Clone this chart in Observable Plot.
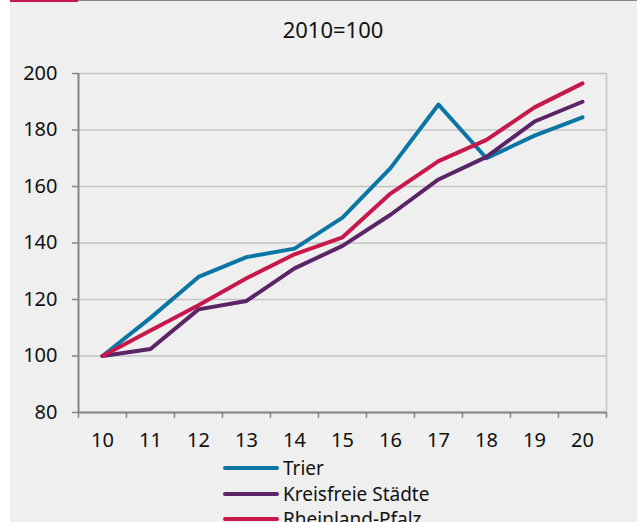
<!DOCTYPE html>
<html><head><meta charset="utf-8">
<script src="https://cdn.jsdelivr.net/npm/d3@7"></script>
<script src="https://cdn.jsdelivr.net/npm/@observablehq/plot@0.6"></script>
<style>
body{margin:0;background:#fff;width:639px;height:522px;overflow:hidden;position:relative;font-family:"Noto Sans",sans-serif;}
#panel{position:absolute;left:10px;top:0;width:627px;height:522px;background:#eeefee;}
#topred{position:absolute;left:10px;top:0;width:68px;height:2px;background:#c8174a;}
#topgray{position:absolute;left:78px;top:0;width:559px;height:1px;background:#858585;}
#title{position:absolute;left:0;width:666px;top:14px;text-align:center;font-size:22px;line-height:30px;color:#111;}
#chart{position:absolute;left:0;top:0;}
.lg{position:absolute;left:223px;height:26px;}
.sw{position:absolute;left:0;width:56px;height:4px;border-radius:2px;top:11px;}
.lt{position:absolute;left:60px;top:0;font-size:19px;white-space:nowrap;color:#111;line-height:26px;}
</style></head><body>
<div id="panel"></div>
<div id="topred"></div><div id="topgray"></div>
<div id="title">2010=100</div>
<div id="chart"></div>
<div id="legend"></div>
<script>
const years = [10, 11, 12, 13, 14, 15, 16, 17, 18, 19, 20];
const seriesNames = ["Trier", "Kreisfreie Städte", "Rheinland-Pfalz"];
const seriesColors = ["#0b76a3", "#5b2466", "#c8174a"];
const trier = [100, 113.5, 128, 135, 138, 149, 166.5, 189, 170, 178, 184.5];
const kreisfreie = [100, 102.5, 116.5, 119.5, 131, 139, 150, 162.5, 170.5, 183, 190];
const rlp = [100, 109, 118, 127.5, 136, 142, 157.5, 169, 176.5, 188, 196.5];
const yTicks = [80, 100, 120, 140, 160, 180, 200];

const allSeries = [trier, kreisfreie, rlp];
const data = [];
allSeries.forEach((vals, s) => years.forEach((yr, i) => data.push({year: yr, value: vals[i], series: seriesNames[s]})));
const bounds = [years[0] - 0.5, ...years.map(y => y + 0.5)];

const chart = Plot.plot({
  width: 639, height: 522,
  marginLeft: 78, marginRight: 33, marginTop: 73, marginBottom: 110,
  x: {type: "linear", domain: [years[0] - 0.5, years[years.length - 1] + 0.5]},
  y: {domain: [80, 200]},
  color: {domain: seriesNames, range: seriesColors},
  style: {background: "transparent", fontFamily: "'Noto Sans', sans-serif", fontSize: "20px", color: "#111"},
  marks: [
    Plot.gridY(yTicks, {stroke: "#c4c4c4", strokeOpacity: 1, strokeWidth: 1.5}),
    Plot.ruleX([bounds[bounds.length - 1]], {stroke: "#c4c4c4", strokeWidth: 1.5}),
    Plot.axisY(yTicks, {tickSize: 6, tickPadding: 15, stroke: "#858585", strokeWidth: 1.5, fontSize: 20, label: null}),
    Plot.ruleX([bounds[0]], {stroke: "#858585", strokeWidth: 2}),
    Plot.ruleY([80], {stroke: "#858585", strokeWidth: 2}),
    Plot.axisX(bounds, {tickSize: 6, tickFormat: () => "", stroke: "#858585", strokeWidth: 1.5, label: null}),
    Plot.axisX(years, {tickSize: 0, tickPadding: 20, fontSize: 20, label: null}),
    Plot.line(data, {x: "year", y: "value", z: "series", stroke: "series", strokeWidth: 4})
  ]
});
document.getElementById("chart").appendChild(chart);

const legend = document.getElementById("legend");
const rowTops = [455, 480.5, 506];
seriesNames.forEach((name, i) => {
  const row = document.createElement("div");
  row.className = "lg";
  row.style.top = rowTops[i] + "px";
  const sw = document.createElement("div");
  sw.className = "sw";
  sw.style.background = seriesColors[i];
  const t = document.createElement("div");
  t.className = "lt";
  t.textContent = name;
  row.appendChild(sw); row.appendChild(t);
  legend.appendChild(row);
});
</script>
</body></html>
